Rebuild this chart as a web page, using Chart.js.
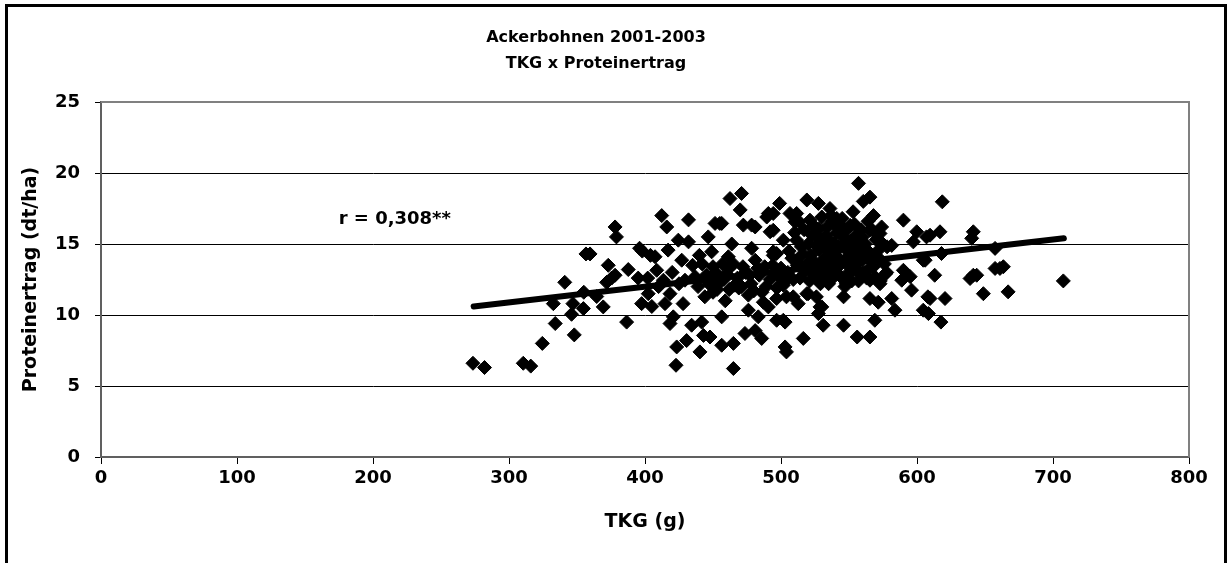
<!DOCTYPE html>
<html>
<head>
<meta charset="utf-8">
<script src="https://cdn.jsdelivr.net/npm/chart.js@4/dist/chart.umd.min.js"></script>
<style>
  html, body { margin: 0; padding: 0; background: #fff; }
  #wrap { width: 1232px; height: 563px; }
</style>
</head>
<body>
<div id="wrap"><canvas id="tkgChart" width="1232" height="563"></canvas></div>
<script>
// TKG (g) of each plot
const tkg = [
  273.5, 282, 310.5, 316, 324.5, 334, 348, 341, 332.6, 346, 347, 354.7, 355, 356.6, 359.6,
  373, 371.8, 375.5, 369.3, 364.5, 378, 379, 386.5, 387.7, 378, 396, 395, 402.4, 397.5, 405,
  407.4, 408.6, 412.3, 416, 413.5, 414.7, 417, 418.4, 420.8, 418.4, 423.3, 422.8, 424.5, 427, 428,
  432, 432, 429.4, 434.3, 430.6, 436.8, 439, 441.7, 443, 440.4, 444, 446.5, 449, 450, 447.8,
  451.5, 456.4, 456.4, 456.4, 454, 459, 461.3, 463.8, 462.5, 471, 470, 465, 465, 466, 472.3,
  478.4, 476, 478.4, 481, 471, 473.5, 481, 485.8, 483.3, 487, 490.7, 492, 494.3, 490.7, 557,
  560.5, 565.4, 553, 568, 499, 519, 527.5, 536, 494.3, 506.6, 510.3, 521.3, 541, 590, 599.8,
  607, 597.3, 581.4, 572.8, 565.4, 558, 563, 496.8, 501.7, 494.3, 511.5, 501.7, 496.8, 504, 512.7,
  519, 526, 530, 527.5, 496.8, 503, 531, 516.4, 503, 504, 546, 556, 565.4, 569, 547,
  546, 565.4, 565.4, 571.5, 572.8, 577.7, 581.4, 583.8, 590, 588.8, 595, 596, 604.6, 604.6, 608,
  556, 557, 618.6, 609.6, 616.9, 641.4, 640.2, 618, 657.4, 613, 641.4, 639, 657.4, 663.5, 648.8,
  667, 707.6, 609.6, 620.6, 608.4, 617.6, 606, 643.9, 661, 501.7, 528.7, 520, 509, 455, 481,
  489.5, 511.5, 494.3,
  505, 508, 510, 512, 514, 515, 517, 518, 520, 521, 522, 524, 525, 526, 527,
  528, 529, 530, 530, 531, 532, 533, 534, 535, 535, 536, 537, 538, 539, 540,
  540, 541, 542, 543, 544, 545, 546, 547, 548, 549, 550, 551, 552, 553, 554,
  555, 556, 558, 559, 560, 562, 563, 564, 566, 568, 570, 572, 574, 576, 578,
  445, 452, 458, 462, 468, 474, 478, 484, 488, 492, 486, 476, 462, 450, 496,
  499, 402, 410, 420, 425, 435, 440, 398, 404,
  506, 509, 511, 513, 516, 519, 523, 524, 526, 528, 529, 531, 533, 534, 536,
  537, 538, 539, 541, 542, 543, 544, 545, 547, 548, 549, 551, 552, 553, 555,
  557, 558, 560, 561, 563, 565, 567, 569, 571, 573, 575, 577,
  442, 447, 453, 457, 460, 465, 469, 472, 477, 480, 483, 489, 494, 497, 500, 503
];

// Proteinertrag (dt/ha), same order as tkg
const protein = [
  6.6, 6.3, 6.6, 6.4, 8.0, 9.4, 8.6, 12.3, 10.8, 10.05, 10.8, 10.45, 11.6, 14.3, 14.3,
  13.5, 12.3, 12.6, 10.57, 11.3, 16.2, 15.5, 9.5, 13.2, 12.8, 14.7, 12.6, 11.5, 10.8, 10.6,
  14.1, 13.15, 17.0, 16.2, 12.45, 10.8, 14.57, 11.5, 9.87, 9.4, 7.75, 6.46, 15.27, 13.86, 10.8,
  16.7, 15.15, 12.45, 9.28, 8.2, 12.7, 12.0, 9.5, 8.56, 7.4, 11.28, 15.5, 14.45, 13.4, 8.45,
  16.45, 16.45, 9.87, 7.87, 12.2, 11.0, 14.1, 15.0, 18.2, 18.56, 17.4, 8.0, 6.23, 12.1, 16.33,
  16.33, 10.34, 14.7, 13.86, 12.0, 8.7, 8.9, 8.35, 9.87, 10.9, 17.15, 15.86, 14.2, 10.57, 19.27,
  18.0, 18.3, 17.27, 17.0, 17.86, 18.1, 17.86, 17.5, 17.15, 17.15, 16.56, 16.68, 16.8, 16.68, 15.86,
  15.5, 15.15, 14.9, 15.74, 15.97, 15.27, 14.57, 14.33, 15.27, 15.97, 15.27, 12.1, 11.16, 11.28, 10.8,
  11.5, 11.28, 10.57, 10.1, 9.63, 9.5, 9.28, 8.35, 7.75, 7.4, 9.28, 8.45, 8.45, 9.63, 12.0,
  11.28, 12.45, 11.16, 10.9, 12.2, 13.0, 11.16, 10.34, 13.15, 12.45, 12.7, 11.75, 13.86, 10.34, 11.28,
  13.28, 15.4, 17.97, 15.62, 15.86, 15.86, 15.4, 14.33, 14.69, 12.8, 12.8, 12.57, 13.28, 13.4, 11.5,
  11.63, 12.4, 11.16, 11.16, 10.1, 9.5, 13.86, 12.8, 13.28, 9.63, 10.57, 11.5, 11.28, 16.45, 16.2,
  16.9, 17.15, 14.45,
  13.0, 14.0, 15.8, 13.5, 12.6, 14.8, 16.0, 13.1, 15.0, 12.4, 14.2, 16.3, 13.7, 12.8, 15.5,
  14.6, 13.3, 16.9, 12.5, 15.0, 14.0, 13.0, 16.2, 15.3, 12.2, 14.4, 13.6, 16.6, 15.0, 12.9,
  14.2, 15.8, 13.4, 16.4, 14.8, 12.6, 15.5, 13.9, 16.0, 14.5, 13.0, 15.2, 12.4, 14.0, 16.4,
  13.6, 14.8, 12.9, 16.0, 13.9, 15.0, 12.6, 16.6, 14.2, 13.4, 15.3, 14.0, 16.2, 13.6, 14.8,
  12.8, 13.0, 12.5, 13.3, 12.6, 13.0, 12.2, 12.8, 13.4, 12.5, 11.6, 11.4, 11.8, 11.6, 13.0,
  12.7, 12.6, 12.0, 13.0, 12.2, 13.5, 14.2, 14.5, 14.2,
  14.5, 12.5, 13.8, 16.6, 14.3, 13.6, 15.6, 12.9, 14.9, 16.1, 12.2, 13.8, 15.6, 14.7, 13.2,
  17.0, 12.6, 14.1, 16.2, 14.9, 12.8, 13.7, 16.8, 15.0, 12.2, 13.5, 16.3, 14.4, 13.2, 15.6,
  12.4, 14.1, 15.5, 13.0, 14.6, 13.3, 16.0, 12.7, 14.5, 12.4, 15.0, 12.9,
  13.6, 12.2, 11.8, 13.6, 12.9, 13.6, 11.9, 13.4, 12.8, 11.7, 13.3, 12.0, 13.5, 11.9, 13.3, 12.4
];

// linear trend (end points)
const trendX = [274, 708];
const trendY = [10.6, 15.4];

const xTicks = [0, 100, 200, 300, 400, 500, 600, 700, 800];
const yTicks = [0, 5, 10, 15, 20, 25];

const titleLines = ['Ackerbohnen 2001-2003', 'TKG x Proteinertrag'];
const rLabel = 'r = 0,308**';

const scatterPts = tkg.map((x, i) => ({ x: x, y: protein[i] }));
const trendPts = trendX.map((x, i) => ({ x: x, y: trendY[i] }));

const FONT = "'DejaVu Sans', sans-serif";

const frameAndText = {
    id: 'frameAndText',
    beforeDraw(chart) {
        const c = chart.ctx;
        c.save();
        c.fillStyle = '#fff';
        c.fillRect(0, 0, chart.width, chart.height);
        c.restore();
    },
    afterDraw(chart) {
        const c = chart.ctx;
        const a = chart.chartArea;
        const xs = chart.scales.x, ys = chart.scales.y;
        c.save();
        // outer frame
        c.strokeStyle = '#000';
        c.lineWidth = 3;
        c.strokeRect(6.5, 5.5, 1219, 620);
        // plot area border top / right
        c.strokeStyle = '#808080';
        c.lineWidth = 2;
        c.beginPath();
        c.moveTo(a.left, a.top);
        c.lineTo(a.right, a.top);
        c.lineTo(a.right, a.bottom);
        c.stroke();
        // title
        c.fillStyle = '#000';
        c.textAlign = 'center';
        c.textBaseline = 'middle';
        c.font = 'bold 16px ' + FONT;
        c.fillText(titleLines[0], 596, 38);
        c.fillText(titleLines[1], 596, 64);
        // correlation label
        c.font = 'bold 18px ' + FONT;
        c.fillText(rLabel, xs.getPixelForValue(216), ys.getPixelForValue(16.75));
        c.restore();
    }
};

new Chart(document.getElementById('tkgChart').getContext('2d'), {
    data: {
        datasets: [{
            type: 'line',
            label: 'Trend',
            data: trendPts,
            borderColor: '#000',
            borderWidth: 6,
            borderCapStyle: 'round',
            pointRadius: 0,
            fill: false,
            order: 0
        }, {
            type: 'scatter',
            label: 'Proteinertrag',
            data: scatterPts,
            pointStyle: 'rectRot',
            pointRadius: 7,
            backgroundColor: '#000',
            borderColor: '#000',
            borderWidth: 1,
            order: 1
        }]
    },
    options: {
        responsive: false,
        animation: false,
        layout: { padding: { top: 102, right: 43, left: 0, bottom: 0 } },
        plugins: {
            legend: { display: false },
            title: { display: false },
            tooltip: { enabled: false }
        },
        scales: {
            x: {
                type: 'linear',
                min: 0,
                max: 800,
                afterBuildTicks: s => { s.ticks = xTicks.map(v => ({ value: v })); },
                afterFit: s => { s.height = 106; },
                grid: { drawOnChartArea: false, drawTicks: true, tickLength: 7, tickColor: '#000' },
                border: { display: true, color: '#606060', width: 2 },
                ticks: { color: '#000', padding: 4, font: { family: FONT, size: 18, weight: 'bold' } },
                title: {
                    display: true,
                    text: 'TKG (g)',
                    color: '#000',
                    padding: { top: 0, bottom: 30 },
                    font: { family: FONT, size: 19, weight: 'bold' }
                }
            },
            y: {
                type: 'linear',
                min: 0,
                max: 25,
                afterBuildTicks: s => { s.ticks = yTicks.map(v => ({ value: v })); },
                afterFit: s => { s.width = 101; },
                grid: {
                    drawOnChartArea: true,
                    drawTicks: true,
                    tickLength: 6,
                    tickColor: '#000',
                    color: ctx => (ctx.tick && (ctx.tick.value === 25 || ctx.tick.value === 0)) ? '#808080' : '#000',
                    lineWidth: 1
                },
                border: { display: true, color: '#606060', width: 2 },
                ticks: { color: '#000', padding: 15, font: { family: FONT, size: 18, weight: 'bold' } },
                title: {
                    display: true,
                    text: 'Proteinertrag (dt/ha)',
                    color: '#000',
                    padding: { top: 20, bottom: 0 },
                    font: { family: FONT, size: 19, weight: 'bold' }
                }
            }
        }
    },
    plugins: [frameAndText]
});
</script>
</body>
</html>
